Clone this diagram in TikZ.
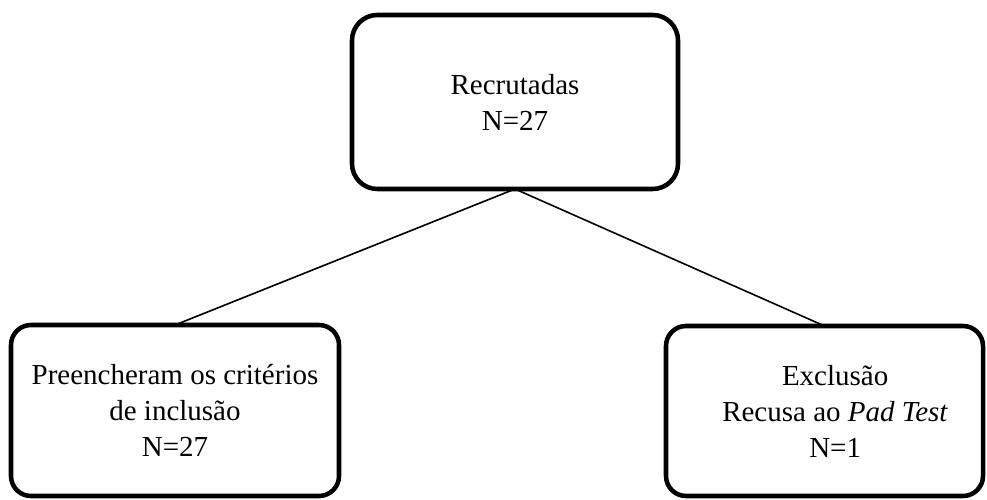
\documentclass[tikz,border=0pt]{standalone}
\usepackage{fontspec}
\setmainfont{Liberation Serif}
\usetikzlibrary{positioning}

\begin{document}
\begin{tikzpicture}[x=0.75pt, y=0.75pt,
  caixa/.style={draw, line width=3.4pt, rounded corners=15pt, align=center,
    inner sep=0pt, outer sep=0pt, font=\fontsize{21.75}{27}\selectfont},
  liga/.style={line width=1.2pt}]
\useasboundingbox (0,0) rectangle (987,499);
% caixas
\node[caixa, rounded corners=19pt, minimum width=244.5pt, minimum height=130.5pt] (recr) at (515,397) {Recrutadas\\N=27};
\node[caixa, minimum width=246pt, minimum height=128.25pt] (incl) at (175,88.5) {Preencheram os critérios\\de inclusão\\N=27};
\node[caixa, minimum width=237.75pt, minimum height=127.5pt] (excl) at (824.5,88) {\hspace*{16pt}Exclusão\\\hspace*{16pt}Recusa ao \textit{Pad Test}\\\hspace*{16pt}N=1};
% ligacoes
\draw[liga] (recr.south) -- (incl.north);
\draw[liga] (recr.south) -- (excl.north);
\end{tikzpicture}
\end{document}
